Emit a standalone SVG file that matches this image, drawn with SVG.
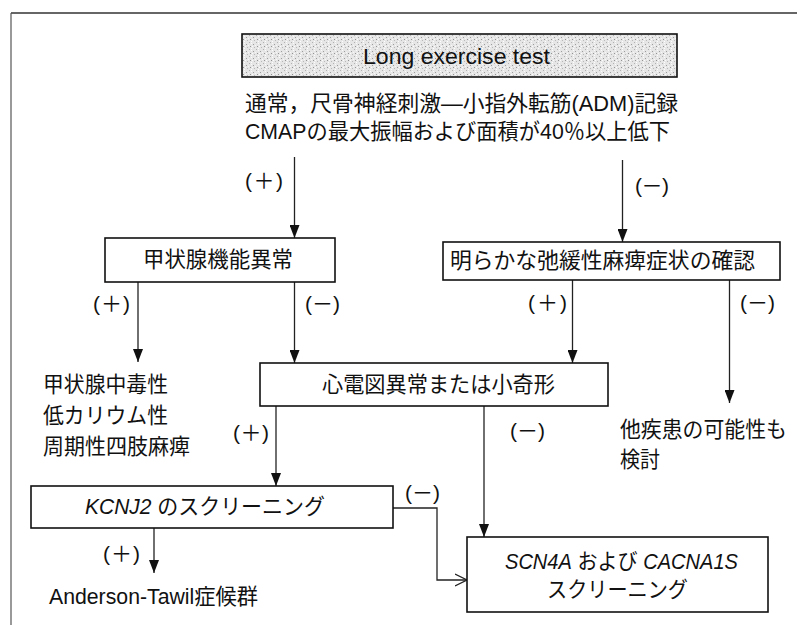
<svg xmlns="http://www.w3.org/2000/svg" width="797" height="625" viewBox="0 0 797 625">
<style>
text{font-family:"Liberation Sans","Noto Sans CJK JP",sans-serif;font-size:21.5px;fill:#111;dominant-baseline:central}
.it{font-style:italic}
.box{fill:#fff;stroke:#111;stroke-width:1.6}
.ln{fill:none;stroke:#222;stroke-width:1.3}
.lbl{font-size:21px}
</style>
<defs>
<pattern id="stip" width="7" height="7" patternUnits="userSpaceOnUse">
<rect width="7" height="7" fill="#e6e6e6"/>
<rect x="1" y="2" width="1" height="1" fill="#9c9c9c"/>
<rect x="4" y="0" width="1" height="1" fill="#b0b0b0"/>
<rect x="5" y="4" width="1" height="1" fill="#939393"/>
<rect x="2" y="5" width="1" height="1" fill="#b8b8b8"/>
<rect x="6" y="1" width="1" height="1" fill="#fafafa"/>
<rect x="0" y="4" width="1" height="1" fill="#fcfcfc"/>
<rect x="3" y="3" width="1" height="1" fill="#f7f7f7"/>
<rect x="6" y="6" width="1" height="1" fill="#fdfdfd"/>
</pattern>
<marker id="ah" viewBox="0 0 13 10" markerWidth="13" markerHeight="10" refX="13" refY="5" orient="auto" markerUnits="userSpaceOnUse">
<path d="M0,0 L13,5 L0,10 z" fill="#111"/>
</marker>
<marker id="oh" viewBox="0 0 13 14" markerWidth="13" markerHeight="14" refX="12" refY="7" orient="auto" markerUnits="userSpaceOnUse">
<path d="M0,1 L12,7 L0,13" fill="none" stroke="#222" stroke-width="1.3"/>
</marker>
</defs>

<g id="frame">
<line x1="11" y1="13" x2="797" y2="13" stroke="#333" stroke-width="1.5"/>
<line x1="11" y1="13" x2="11" y2="625" stroke="#555" stroke-width="1.2"/>
</g>

<g id="connectors">
<line class="ln" x1="294.5" y1="157" x2="294.5" y2="238" marker-end="url(#ah)"/>
<line class="ln" x1="622.5" y1="160" x2="622.5" y2="242" marker-end="url(#ah)"/>
<line class="ln" x1="138" y1="282" x2="138" y2="362" marker-end="url(#ah)"/>
<line class="ln" x1="294.5" y1="282" x2="294.5" y2="363" marker-end="url(#ah)"/>
<line class="ln" x1="572.5" y1="280" x2="572.5" y2="363" marker-end="url(#ah)"/>
<line class="ln" x1="729.5" y1="280" x2="729.5" y2="403" marker-end="url(#ah)"/>
<line class="ln" x1="276" y1="406" x2="276" y2="486" marker-end="url(#ah)"/>
<line class="ln" x1="484" y1="406" x2="484" y2="537" marker-end="url(#ah)"/>
<line class="ln" x1="154" y1="528" x2="154" y2="573" marker-end="url(#ah)"/>
<polyline class="ln" points="393,508 437,508 437,580 467,580" marker-end="url(#oh)"/>
<text class="lbl" x="245" y="180" textLength="38" lengthAdjust="spacing">(＋)</text>
<text class="lbl" x="635" y="185" textLength="34" lengthAdjust="spacing">(－)</text>
<text class="lbl" x="93" y="303" textLength="37" lengthAdjust="spacing">(＋)</text>
<text class="lbl" x="305" y="303" textLength="35" lengthAdjust="spacing">(－)</text>
<text class="lbl" x="528" y="302" textLength="39" lengthAdjust="spacing">(＋)</text>
<text class="lbl" x="740" y="302" textLength="35" lengthAdjust="spacing">(－)</text>
<text class="lbl" x="233" y="432" textLength="36" lengthAdjust="spacing">(＋)</text>
<text class="lbl" x="510" y="430" textLength="35" lengthAdjust="spacing">(－)</text>
<text class="lbl" x="405" y="492" textLength="35" lengthAdjust="spacing">(－)</text>
<text class="lbl" x="103" y="553" textLength="37" lengthAdjust="spacing">(＋)</text>
</g>

<g id="n-start">
<rect x="242" y="34" width="435" height="43" fill="url(#stip)" stroke="#111" stroke-width="1.6"/>
<text x="363" y="56" style="font-size:22px" textLength="187" lengthAdjust="spacingAndGlyphs">Long exercise test</text>
</g>

<g id="n-criteria">
<text x="245" y="104" textLength="433" lengthAdjust="spacingAndGlyphs">通常，尺骨神経刺激―小指外転筋(ADM)記録</text>
<text x="245" y="132" textLength="425" lengthAdjust="spacingAndGlyphs">CMAPの最大振幅および面積が40％以上低下</text>
</g>

<g id="n-thyroid">
<rect class="box" x="105" y="238" width="230" height="44"/>
<text x="143" y="260" textLength="150" lengthAdjust="spacingAndGlyphs">甲状腺機能異常</text>
</g>

<g id="n-paralysis">
<rect class="box" x="443" y="242" width="337" height="38"/>
<text x="450" y="261" textLength="305" lengthAdjust="spacingAndGlyphs">明らかな弛緩性麻痺症状の確認</text>
</g>

<g id="n-thyrotoxic">
<text x="43" y="385" textLength="125" lengthAdjust="spacingAndGlyphs">甲状腺中毒性</text>
<text x="43" y="416" textLength="125" lengthAdjust="spacingAndGlyphs">低カリウム性</text>
<text x="43" y="447" textLength="147" lengthAdjust="spacingAndGlyphs">周期性四肢麻痺</text>
</g>

<g id="n-ecg">
<rect class="box" x="260" y="363" width="348" height="43"/>
<text x="322" y="385" textLength="233" lengthAdjust="spacingAndGlyphs">心電図異常または小奇形</text>
</g>

<g id="n-other">
<text x="620" y="430" textLength="167" lengthAdjust="spacingAndGlyphs">他疾患の可能性も</text>
<text x="620" y="460" textLength="40" lengthAdjust="spacingAndGlyphs">検討</text>
</g>

<g id="n-kcnj2">
<rect class="box" x="31" y="486" width="362" height="42"/>
<text x="85" y="507" textLength="240" lengthAdjust="spacingAndGlyphs"><tspan class="it">KCNJ2</tspan> のスクリーニング</text>
</g>

<g id="n-at">
<text x="49" y="597" textLength="209" lengthAdjust="spacingAndGlyphs">Anderson-Tawil症候群</text>
</g>

<g id="n-scn">
<rect class="box" x="467" y="537" width="301" height="75"/>
<text x="505" y="562" textLength="233" lengthAdjust="spacingAndGlyphs"><tspan class="it">SCN4A</tspan> および <tspan class="it">CACNA1S</tspan></text>
<text x="547" y="590" textLength="141" lengthAdjust="spacingAndGlyphs">スクリーニング</text>
</g>
</svg>
